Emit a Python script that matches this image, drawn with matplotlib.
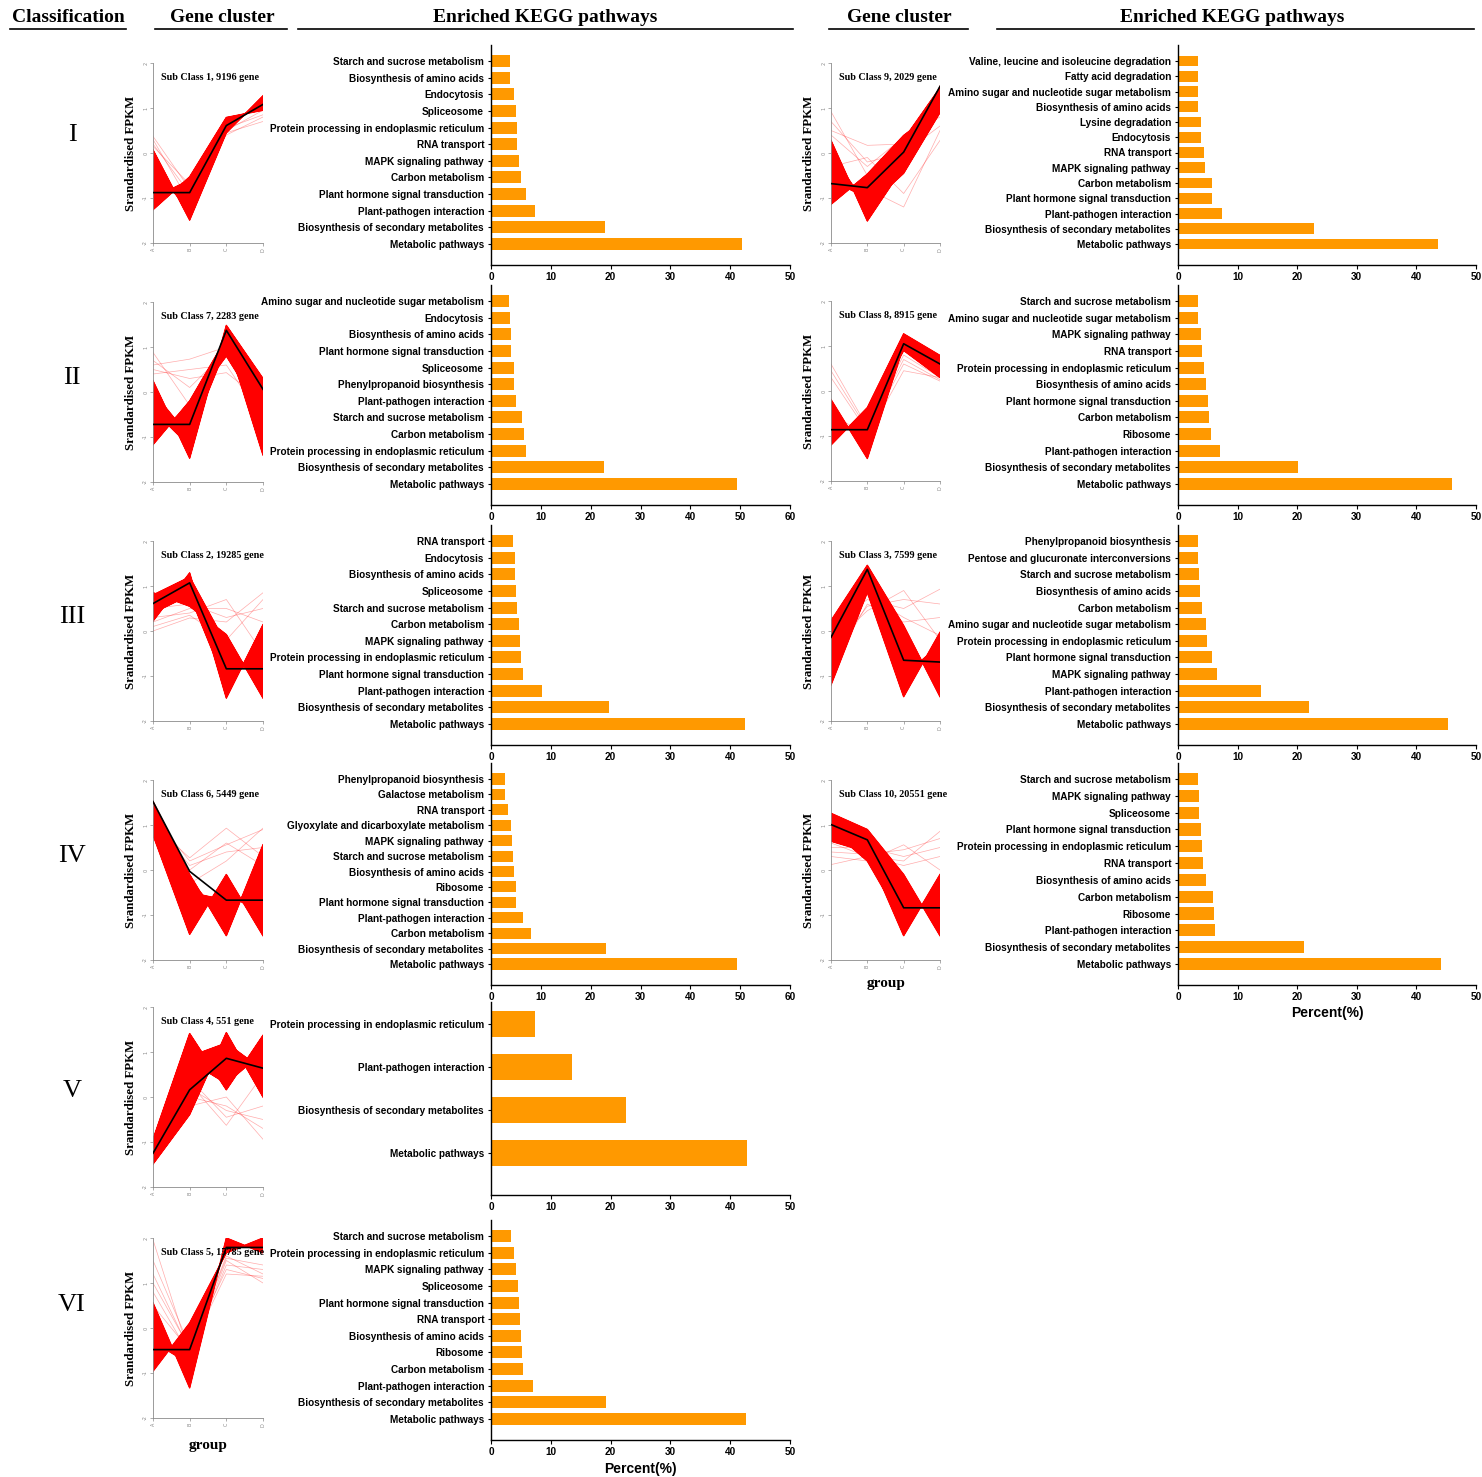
import matplotlib
matplotlib.use('Agg')
import matplotlib.pyplot as plt
from matplotlib.collections import PolyCollection
from matplotlib.lines import Line2D

W, H = 1482, 1477
SANS = 'Liberation Sans'
SERIF = 'Liberation Serif'
ORANGE = '#FF9900'

groups = ['A', 'B', 'C', 'D']
fpkm_ticks = [-2, -1, 0, 1, 2]
classes = ['I', 'II', 'III', 'IV', 'V', 'VI']

# cluster profiles: mean line, the dense core of genes, and a few loose genes
sc1_title = 'Sub Class 1, 9196 gene'
sc1_mean = [-0.88, -0.88, 0.61, 1.08]
sc1_core = [[0.07, -1.49, 0.45, 1.27], [-0.3, -1.3, 0.5, 1.2], [-1.26, -0.53, 0.79, 0.95],
            [-1.0, -0.6, 0.7, 1.05], [-0.5, -1.0, 0.6, 1.1]]
sc1_loose = [[0.37, -0.8, 0.5, 0.95], [0.2, -0.9, 0.45, 0.7], [0.3, -1.1, 0.55, 0.85],
             [0.15, -0.7, 0.4, 0.8]]

sc9_title = 'Sub Class 9, 2029 gene'
sc9_mean = [-0.68, -0.77, 0.02, 1.48]
sc9_core = [[0.28, -1.51, -0.3, 1.48], [-1.14, -0.47, 0.39, 1.0], [-0.6, -1.0, 0.0, 1.3],
            [0.0, -1.2, -0.45, 0.9], [-0.9, -0.6, 0.3, 1.45]]
sc9_loose = [[0.92, -0.5, 0.1, 1.2], [0.5, 0.17, 0.2, 1.0], [-0.6, -0.8, -1.2, 0.5],
             [0.7, -0.2, 0.0, 0.6], [-0.3, -0.1, -0.9, 0.28], [0.4, -0.3, 0.35, 0.8]]

sc7_title = 'Sub Class 7, 2283 gene'
sc7_mean = [-0.72, -0.72, 1.37, 0.06]
sc7_core = [[0.25, -1.47, 1.48, 0.3], [-1.17, -0.2, 1.2, -1.4], [-0.4, -1.2, 1.37, 0.06],
            [-1.0, -0.3, 0.8, -0.5], [0.0, -1.0, 1.0, -1.0]]
sc7_loose = [[0.88, -0.3, 1.2, 0.0], [0.6, 0.73, 1.0, -0.3], [0.5, 0.3, 0.43, -0.2],
             [0.7, 0.1, 0.9, 0.2], [0.4, 0.5, 0.6, -0.6]]

sc8_title = 'Sub Class 8, 8915 gene'
sc8_mean = [-0.86, -0.86, 1.05, 0.6]
sc8_core = [[-0.19, -1.5, 1.0, 0.5], [-1.2, -0.37, 1.27, 0.79], [-0.6, -1.1, 1.1, 0.6],
            [-1.0, -0.6, 0.9, 0.3]]
sc8_loose = [[0.6, -0.8, 0.8, 0.3], [0.3, -0.9, 0.6, 0.22], [-0.5, -1.0, 0.45, 0.3],
             [0.45, -0.85, 0.7, 0.25]]

sc2_title = 'Sub Class 2, 19285 gene'
sc2_mean = [0.61, 1.07, -0.84, -0.84]
sc2_core = [[0.85, 0.55, -0.08, -1.49], [0.22, 1.29, -1.49, 0.14], [0.6, 1.0, -0.8, -0.8],
            [0.4, 0.8, -1.2, -0.3], [0.8, 1.2, -0.3, -1.2]]
sc2_loose = [[0.3, 0.4, 0.7, -0.5], [0.0, 0.29, 0.2, 0.85], [0.5, 0.6, 0.3, 0.5],
             [0.2, 0.5, 0.5, 0.2], [0.1, 0.35, -0.2, 0.7]]

sc3_title = 'Sub Class 3, 7599 gene'
sc3_mean = [-0.14, 1.37, -0.65, -0.69]
sc3_core = [[0.23, 1.46, 0.12, -1.46], [-1.2, 0.86, -1.46, -0.03], [-0.5, 1.3, -0.6, -0.7],
            [0.0, 1.0, -1.0, -0.3]]
sc3_loose = [[-0.3, 0.45, 0.9, -0.2], [0.1, 0.7, 0.5, 0.93], [-0.8, 0.6, 0.2, 0.3],
             [-0.5, 0.55, 0.7, 0.6], [0.0, 0.8, 0.3, -0.1]]

sc6_title = 'Sub Class 6, 5449 gene'
sc6_mean = [1.52, -0.03, -0.67, -0.67]
sc6_core = [[1.52, -0.1, -1.46, 0.56], [0.78, -1.43, -0.1, -1.46], [1.3, -0.5, -0.67, -0.67],
            [1.0, -1.0, -0.5, -1.0], [1.4, -0.2, -1.2, 0.2]]
sc6_loose = [[1.0, 0.27, 0.93, 0.3], [1.2, 0.2, 0.56, 0.9], [0.9, -0.3, 0.2, 0.93],
             [1.1, 0.1, 0.4, 0.5], [0.85, 0.0, 0.6, 0.1]]

sc10_title = 'Sub Class 10, 20551 gene'
sc10_mean = [1.01, 0.67, -0.84, -0.84]
sc10_core = [[1.26, 0.9, -0.1, -1.46], [0.64, 0.4, -1.46, -0.1], [1.0, 0.67, -0.84, -0.84],
             [0.9, 0.2, -1.2, -0.4]]
sc10_loose = [[0.3, 0.2, 0.56, 0.0], [0.12, 0.3, 0.2, 0.86], [0.5, 0.5, 0.3, 0.5],
              [0.4, 0.35, 0.45, 0.7], [0.6, 0.3, 0.1, 0.3]]

sc4_title = 'Sub Class 4, 551 gene'
sc4_mean = [-1.25, 0.16, 0.86, 0.64]
sc4_core = [[-0.94, 1.41, 0.16, 1.37], [-1.49, -0.39, 1.43, 0.0], [-1.2, 0.16, 0.86, 0.64],
            [-1.0, 0.8, 0.3, 1.0], [-1.4, 0.0, 1.2, 0.2], [-1.1, 0.9, 1.2, 0.6]]
sc4_loose = [[-1.0, 0.3, -0.63, 0.5], [-1.3, -0.2, 0.0, -0.94], [-1.2, 0.2, -0.3, -0.5],
             [-1.1, 0.4, -0.45, -0.2], [-1.25, 0.0, -0.2, -0.7]]

sc5_title = 'Sub Class 5, 15785 gene'
sc5_mean = [-0.48, -0.48, 1.79, 1.79]
sc5_core = [[0.56, -1.33, 2.0, 1.67], [-0.96, 0.11, 1.67, 2.0], [-0.3, -0.8, 1.85, 1.8],
            [-0.7, -0.2, 1.75, 1.9]]
sc5_loose = [[1.96, -0.6, 1.5, 1.0], [1.5, -0.4, 1.3, 1.1], [1.2, -0.5, 1.6, 1.2],
             [0.8, -0.6, 1.4, 1.3], [0.5, -0.5, 1.2, 1.15], [1.0, -0.45, 1.55, 1.4]]

# enriched KEGG pathways (percent), listed top to bottom
sc1_terms = ['Starch and sucrose metabolism', 'Biosynthesis of amino acids', 'Endocytosis',
             'Spliceosome', 'Protein processing in endoplasmic reticulum', 'RNA transport',
             'MAPK signaling pathway', 'Carbon metabolism', 'Plant hormone signal transduction',
             'Plant-pathogen interaction', 'Biosynthesis of secondary metabolites', 'Metabolic pathways']
sc1_pct = [3.1, 3.2, 3.8, 4.2, 4.3, 4.4, 4.7, 5.0, 5.9, 7.4, 19.1, 42.0]

sc9_terms = ['Valine, leucine and isoleucine degradation', 'Fatty acid degradation',
             'Amino sugar and nucleotide sugar metabolism', 'Biosynthesis of amino acids',
             'Lysine degradation', 'Endocytosis', 'RNA transport', 'MAPK signaling pathway',
             'Carbon metabolism', 'Plant hormone signal transduction', 'Plant-pathogen interaction',
             'Biosynthesis of secondary metabolites', 'Metabolic pathways']
sc9_pct = [3.3, 3.3, 3.3, 3.4, 3.8, 3.8, 4.3, 4.6, 5.7, 5.7, 7.3, 22.9, 43.7]

sc7_terms = ['Amino sugar and nucleotide sugar metabolism', 'Endocytosis', 'Biosynthesis of amino acids',
             'Plant hormone signal transduction', 'Spliceosome', 'Phenylpropanoid biosynthesis',
             'Plant-pathogen interaction', 'Starch and sucrose metabolism', 'Carbon metabolism',
             'Protein processing in endoplasmic reticulum', 'Biosynthesis of secondary metabolites',
             'Metabolic pathways']
sc7_pct = [3.6, 3.8, 4.1, 4.1, 4.7, 4.7, 5.0, 6.25, 6.7, 7.1, 22.6, 49.4]

sc8_terms = ['Starch and sucrose metabolism', 'Amino sugar and nucleotide sugar metabolism',
             'MAPK signaling pathway', 'RNA transport', 'Protein processing in endoplasmic reticulum',
             'Biosynthesis of amino acids', 'Plant hormone signal transduction', 'Carbon metabolism',
             'Ribosome', 'Plant-pathogen interaction', 'Biosynthesis of secondary metabolites',
             'Metabolic pathways']
sc8_pct = [3.4, 3.4, 3.8, 4.1, 4.3, 4.65, 5.1, 5.2, 5.5, 7.0, 20.1, 45.9]

sc2_terms = ['RNA transport', 'Endocytosis', 'Biosynthesis of amino acids', 'Spliceosome',
             'Starch and sucrose metabolism', 'Carbon metabolism', 'MAPK signaling pathway',
             'Protein processing in endoplasmic reticulum', 'Plant hormone signal transduction',
             'Plant-pathogen interaction', 'Biosynthesis of secondary metabolites', 'Metabolic pathways']
sc2_pct = [3.6, 4.0, 4.0, 4.1, 4.3, 4.7, 4.8, 5.05, 5.3, 8.6, 19.8, 42.4]

sc3_terms = ['Phenylpropanoid biosynthesis', 'Pentose and glucuronate interconversions',
             'Starch and sucrose metabolism', 'Biosynthesis of amino acids', 'Carbon metabolism',
             'Amino sugar and nucleotide sugar metabolism', 'Protein processing in endoplasmic reticulum',
             'Plant hormone signal transduction', 'MAPK signaling pathway', 'Plant-pathogen interaction',
             'Biosynthesis of secondary metabolites', 'Metabolic pathways']
sc3_pct = [3.4, 3.4, 3.6, 3.7, 4.1, 4.65, 4.8, 5.7, 6.5, 14.0, 21.9, 45.3]

sc6_terms = ['Phenylpropanoid biosynthesis', 'Galactose metabolism', 'RNA transport',
             'Glyoxylate and dicarboxylate metabolism', 'MAPK signaling pathway',
             'Starch and sucrose metabolism', 'Biosynthesis of amino acids', 'Ribosome',
             'Plant hormone signal transduction', 'Plant-pathogen interaction', 'Carbon metabolism',
             'Biosynthesis of secondary metabolites', 'Metabolic pathways']
sc6_pct = [2.9, 2.9, 3.5, 4.1, 4.2, 4.4, 4.6, 5.0, 5.1, 6.5, 8.0, 23.1, 49.3]

sc10_terms = ['Starch and sucrose metabolism', 'MAPK signaling pathway', 'Spliceosome',
              'Plant hormone signal transduction', 'Protein processing in endoplasmic reticulum',
              'RNA transport', 'Biosynthesis of amino acids', 'Carbon metabolism', 'Ribosome',
              'Plant-pathogen interaction', 'Biosynthesis of secondary metabolites', 'Metabolic pathways']
sc10_pct = [3.3, 3.5, 3.5, 3.9, 4.0, 4.2, 4.7, 5.8, 6.1, 6.2, 21.1, 44.2]

sc4_terms = ['Protein processing in endoplasmic reticulum', 'Plant-pathogen interaction',
             'Biosynthesis of secondary metabolites', 'Metabolic pathways']
sc4_pct = [7.3, 13.6, 22.5, 42.75]

sc5_terms = ['Starch and sucrose metabolism', 'Protein processing in endoplasmic reticulum',
             'MAPK signaling pathway', 'Spliceosome', 'Plant hormone signal transduction',
             'RNA transport', 'Biosynthesis of amino acids', 'Ribosome', 'Carbon metabolism',
             'Plant-pathogen interaction', 'Biosynthesis of secondary metabolites', 'Metabolic pathways']
sc5_pct = [3.4, 3.8, 4.1, 4.5, 4.6, 4.8, 5.1, 5.2, 5.4, 7.1, 19.3, 42.6]


fig = plt.figure(figsize=(W / 100, H / 100), dpi=100)


def px_axes(x0, y0, x1, y1):
    return fig.add_axes([x0 / W, 1 - y1 / H, (x1 - x0) / W, (y1 - y0) / H])


def draw_cluster(x0, x1, top, title, mean, core, loose, ylab_x):
    ax = px_axes(x0, top, x1, top + 180)
    xs = range(4)
    # every pair of core genes spans a band; together they give the solid bundle
    polys = []
    for i in range(3):
        for a in range(len(core)):
            for b in range(a + 1, len(core)):
                p, q = core[a], core[b]
                polys.append([(i, p[i]), (i + 1, p[i + 1]), (i + 1, q[i + 1]), (i, q[i])])
    ax.add_collection(PolyCollection(polys, facecolors='#ff0000', edgecolors='#ff0000',
                                     linewidths=0.4, zorder=2))
    for prof in core:
        ax.plot(xs, prof, color='#ff0000', lw=1.0, zorder=2)
    for prof in loose:
        ax.plot(xs, prof, color='#ff3030', lw=0.5, alpha=0.4, zorder=1)
    ax.plot(xs, mean, color='black', lw=1.2, zorder=3)
    ax.set_xlim(0, 3)
    ax.set_ylim(-2, 2)
    for s in ['top', 'right']:
        ax.spines[s].set_visible(False)
    for s in ['left', 'bottom']:
        ax.spines[s].set_color('#8a8a8a')
        ax.spines[s].set_linewidth(0.6)
    ax.set_xticks(list(xs))
    ax.set_xticklabels(groups, rotation=90, fontsize=3.5, color='#888888')
    ax.set_yticks(fpkm_ticks)
    ax.set_yticklabels([str(t) for t in fpkm_ticks], rotation=90, fontsize=3.5,
                       color='#888888', va='center')
    ax.tick_params(length=2, width=0.5, color='#8a8a8a', pad=1.5)
    ax.text(0.07, 0.92, title, transform=ax.transAxes, ha='left', va='center',
            fontsize=7.3, fontweight='bold', family=SERIF, zorder=4)
    fig.text(ylab_x / W, 1 - (top + 90) / H, 'Srandardised FPKM', rotation=90,
             ha='center', va='center', fontsize=9.3, fontweight='bold', family=SERIF)
    return ax


def draw_bars(x0, x1, top, bottom, terms, pct, xmax):
    ax = px_axes(x0, top, x1, bottom)
    n = len(terms)
    ypos = list(range(n - 1, -1, -1))
    if n > 6:
        pad_top, pad_bot, bh = 16, 21, 0.72
    else:
        pad_top, pad_bot, bh = 22, 42, 0.6
    sp = (bottom - top - pad_top - pad_bot) / (n - 1)
    ax.barh(ypos, pct, height=bh, color=ORANGE, zorder=2)
    ax.set_ylim(-pad_bot / sp, n - 1 + pad_top / sp)
    ax.set_xlim(0, xmax)
    ax.set_xticks(range(0, xmax + 1, 10))
    ax.set_yticks(ypos)
    ax.set_yticklabels(terms, fontsize=7.2, fontweight='bold', family=SANS)
    for lab in ax.get_xticklabels():
        lab.set_fontsize(7.2)
        lab.set_fontweight('bold')
        lab.set_family(SANS)
    for s in ['top', 'right']:
        ax.spines[s].set_visible(False)
    for s in ['left', 'bottom']:
        ax.spines[s].set_linewidth(1.0)
    ax.tick_params(axis='y', length=2.5, width=0.8, pad=2.5)
    ax.tick_params(axis='x', length=3, width=0.8, pad=2)
    return ax


# left column: classes I-VI
left_clusters = [
    (sc1_title, sc1_mean, sc1_core, sc1_loose, sc1_terms, sc1_pct, 50),
    (sc7_title, sc7_mean, sc7_core, sc7_loose, sc7_terms, sc7_pct, 60),
    (sc2_title, sc2_mean, sc2_core, sc2_loose, sc2_terms, sc2_pct, 50),
    (sc6_title, sc6_mean, sc6_core, sc6_loose, sc6_terms, sc6_pct, 60),
    (sc4_title, sc4_mean, sc4_core, sc4_loose, sc4_terms, sc4_pct, 50),
    (sc5_title, sc5_mean, sc5_core, sc5_loose, sc5_terms, sc5_pct, 50),
]
right_clusters = [
    (sc9_title, sc9_mean, sc9_core, sc9_loose, sc9_terms, sc9_pct, 50),
    (sc8_title, sc8_mean, sc8_core, sc8_loose, sc8_terms, sc8_pct, 50),
    (sc3_title, sc3_mean, sc3_core, sc3_loose, sc3_terms, sc3_pct, 50),
    (sc10_title, sc10_mean, sc10_core, sc10_loose, sc10_terms, sc10_pct, 50),
]

cluster_tops_left = [63, 302, 541, 780, 1007, 1238]
cluster_tops_right = [63, 301, 541, 780]
bar_boxes = [(45, 265), (285, 505), (525, 745), (763, 985), (1002, 1195), (1220, 1440)]
class_y = [135, 378, 617, 856, 1091, 1305]

for k, (title, mean, core, loose, terms, pct, xmax) in enumerate(left_clusters):
    draw_cluster(153, 263, cluster_tops_left[k], title, mean, core, loose, 131)
    draw_bars(491, 790, bar_boxes[k][0], bar_boxes[k][1], terms, pct, xmax)
    fig.text(72 / W, 1 - class_y[k] / H, classes[k], ha='center', va='center',
             fontsize=19, family=SERIF)

for k, (title, mean, core, loose, terms, pct, xmax) in enumerate(right_clusters):
    draw_cluster(831, 940, cluster_tops_right[k], title, mean, core, loose, 809)
    draw_bars(1178, 1476, bar_boxes[k][0], bar_boxes[k][1], terms, pct, xmax)

# axis captions below the last panels
fig.text(208 / W, 1 - 1445 / H, 'group', ha='center', va='center', fontsize=11,
         fontweight='bold', family=SERIF)
fig.text(886 / W, 1 - 984 / H, 'group', ha='center', va='center', fontsize=11,
         fontweight='bold', family=SERIF)
fig.text(640 / W, 1 - 1469 / H, 'Percent(%)', ha='center', va='center', fontsize=10,
         fontweight='bold', family=SANS)
fig.text(1327 / W, 1 - 1013 / H, 'Percent(%)', ha='center', va='center', fontsize=10,
         fontweight='bold', family=SANS)

# column headers with rules underneath
headers = [('Classification', 68, 10, 126), ('Gene cluster', 222, 155, 287),
           ('Enriched KEGG pathways', 545, 298, 793), ('Gene cluster', 899, 829, 968),
           ('Enriched KEGG pathways', 1232, 997, 1474)]
for text, cx, lx0, lx1 in headers:
    fig.text(cx / W, 1 - 18 / H, text, ha='center', va='center', fontsize=14,
             fontweight='bold', family=SERIF)
    fig.add_artist(Line2D([lx0 / W, lx1 / W], [1 - 29 / H, 1 - 29 / H], color='black',
                          lw=1.2, transform=fig.transFigure))

fig.savefig('out.png', dpi=100, facecolor='white')
